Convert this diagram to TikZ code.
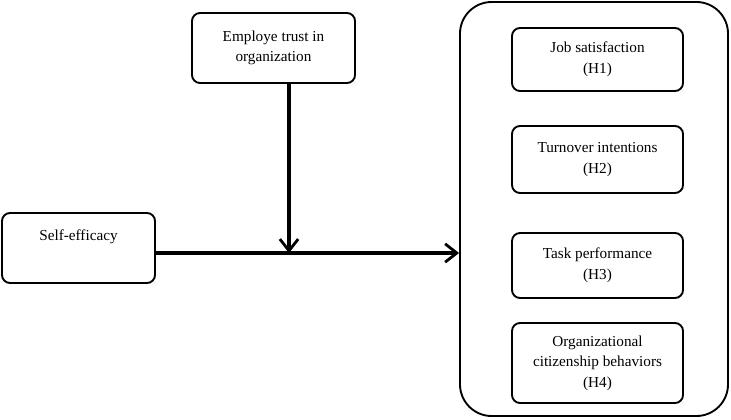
\documentclass[tikz,border=0pt]{standalone}
\usepackage{fontspec}
\setmainfont{Liberation Serif}
\usetikzlibrary{arrows.meta}

\tikzset{
	box/.style={draw, line width=1.6pt, rounded corners=0.24cm, align=center,
		font=\fontsize{13}{17.5}\selectfont},
	link/.style={line width=2.6pt, -{Straight Barb[length=3.5mm, width=5.5mm, line width=2.4pt]}}
}

\begin{document}
\begin{tikzpicture}[x=0.03cm, y=-0.03cm]
			%%%%% START %%%%%
			
			\useasboundingbox (0, 0) rectangle (731, 419);
			
			\node[box, minimum width=4.89cm, minimum height=2.1cm] (trust) at (273.5, 48) {Employe trust in\\organization};
			\node[box, minimum width=4.59cm, minimum height=2.1cm] (self) at (78.5, 248) {Self-efficacy\\[4pt]};
			
			\node[draw, line width=1.6pt, rounded corners=0.95cm, minimum width=8.04cm, minimum height=12.42cm] (outcomes) at (594, 209) {};
			
			\node[box, minimum width=5.13cm, minimum height=1.89cm] (h1) at (597.5, 59.5) {Job satisfaction\\(H1)};
			\node[box, minimum width=5.13cm, minimum height=2.01cm] (h2) at (597.5, 159.5) {Turnover intentions\\(H2)};
			\node[box, minimum width=5.13cm, minimum height=1.95cm] (h3) at (597.5, 265.5) {Task performance\\(H3)};
			\node[box, minimum width=5.13cm, minimum height=2.4cm] (h4) at (597.5, 363) {Organizational\\citizenship behaviors\\(H4)};
			
			\coordinate (meet) at (289, 253);
			\draw[link] (self.east |- meet) -- (outcomes.west |- meet);
			\draw[link] (trust.south -| meet) -- (meet);
			
			%%%%% END %%%%%
\end{tikzpicture}
\end{document}
